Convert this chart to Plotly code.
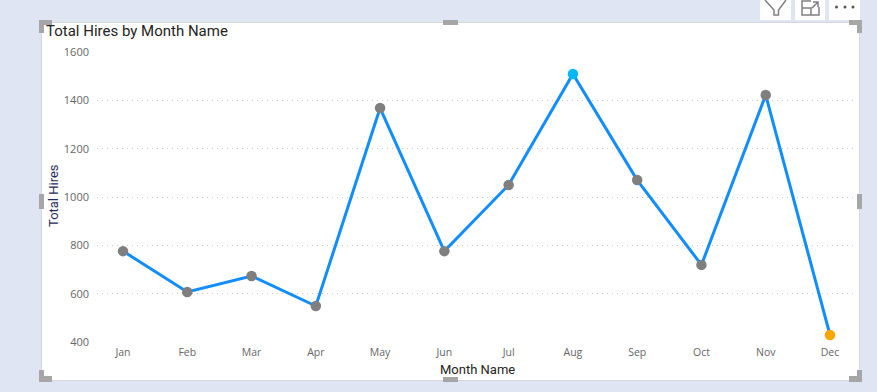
import plotly.graph_objects as go

W, H = 877, 392
months = ["Jan","Feb","Mar","Apr","May","Jun","Jul","Aug","Sep","Oct","Nov","Dec"]
hires = [776, 607, 673, 549, 1368, 776, 1050, 1509, 1070, 719, 1422, 429]
y_ticks = [400, 600, 800, 1000, 1200, 1400, 1600]
GREY = "#7f7f7f"
point_colors = [GREY]*7 + ["#01b8f4"] + [GREY]*3 + ["#ffa500"]

def X(p): return p / W
def Y(p): return 1 - p / H

def rect(x0, y0, x1, y1, fill, line=None):
    return dict(type="rect", xref="paper", yref="paper", layer="below",
                x0=X(x0), x1=X(x1), y0=Y(y0), y1=Y(y1), fillcolor=fill,
                line=dict(width=1 if line else 0, color=line or fill))

def seg(path, color, width=1.5):
    return dict(type="path", xref="paper", yref="paper", layer="below",
                path=" ".join(f"{c}{X(a):.5f},{Y(b):.5f}" for c, a, b in path),
                line=dict(color=color, width=width))

shapes = [
    rect(41.5, 22.5, 859.5, 380.5, "white", "#d4d6db"),
    rect(760, 0, 791, 20, "white"),
    rect(795, 0, 825, 20, "white"),
    rect(829, 0, 860, 20, "white"),
    seg([("M",765,0),("L",774,10),("L",774,15),("L",778.5,15),("L",778.5,10),("L",786,0)], "#808080"),
    seg([("M",811,1),("L",802,1),("L",802,15),("L",819,15),("L",819,7),
         ("M",802,8),("L",811,8),("L",811,15),
         ("M",812,8),("L",818,2),("M",813,2),("L",818,2),("L",818,7)], "#808080"),
]
for cx in (836.5, 845, 853):
    shapes.append(dict(type="circle", xref="paper", yref="paper", layer="below",
                       x0=X(cx-1.5), x1=X(cx+1.5), y0=Y(8.5), y1=Y(5.5),
                       fillcolor="#555555", line=dict(width=0)))
HC = "#a6a6a6"
shapes += [
    rect(39, 20, 52, 25, HC), rect(39, 20, 44, 33, HC),
    rect(849, 20, 862, 25, HC), rect(857, 20, 862, 33, HC),
    rect(39, 376, 52, 382, HC), rect(39, 370, 44, 382, HC),
    rect(849, 376, 862, 382, HC), rect(857, 370, 862, 382, HC),
    rect(443, 20, 458, 25, HC), rect(443, 377, 458, 382, HC),
    rect(39, 194, 44, 209, HC), rect(857, 194, 862, 209, HC),
]

fig = go.Figure(go.Scatter(
    x=months, y=hires, mode="lines+markers", cliponaxis=False,
    line=dict(color="#118dff", width=3),
    marker=dict(size=10.5, color=point_colors, line=dict(width=0)),
))

step = (830 - 123) / 11
x_lo = (97 - 123) / step
x_hi = (853 - 123) / step

fig.update_layout(
    width=W, height=H, autosize=False,
    margin=dict(l=0, r=0, t=0, b=0),
    paper_bgcolor="#dfe5f3", plot_bgcolor="rgba(0,0,0,0)",
    showlegend=False, shapes=shapes,
    xaxis=dict(domain=[X(97), X(853)], range=[x_lo, x_hi], type="category", automargin=False,
               categoryorder="array", categoryarray=months,
               showgrid=False, zeroline=False, showline=False, ticks="", ticklabelstandoff=2,
               tickfont=dict(family="Open Sans", size=10.5, color="#666666")),
    yaxis=dict(domain=[Y(342), Y(52)], range=[400, 1600], tickvals=y_ticks, automargin=False,
               showgrid=True, griddash="1px,4px", gridcolor="#c8c8c8", gridwidth=1,
               zeroline=False, showline=False, ticks="", ticklabelstandoff=7,
               tickfont=dict(family="Open Sans", size=11, color="#666666")),
    annotations=[
        dict(text="Total Hires by Month Name", xref="paper", yref="paper",
             x=X(44), y=Y(31), xanchor="left", yanchor="middle", showarrow=False,
             font=dict(family="Roboto", size=15, color="#252423")),
        dict(text="Month Name", xref="paper", yref="paper",
             x=X(477), y=Y(369), xanchor="center", yanchor="middle", showarrow=False,
             font=dict(family="Roboto", size=13, color="#252423")),
        dict(text="Total Hires", xref="paper", yref="paper",
             x=X(53), y=Y(196), xanchor="center", yanchor="middle", showarrow=False,
             textangle=-90, font=dict(family="Roboto", size=13, color="#1f2a5a")),
    ],
)
fig.write_html("out.html", config={"displayModeBar": False}, post_script=(
    "document.body.style.margin='0';"
    "document.documentElement.style.overflow='hidden';"
    "document.body.style.overflow='hidden';"
))
